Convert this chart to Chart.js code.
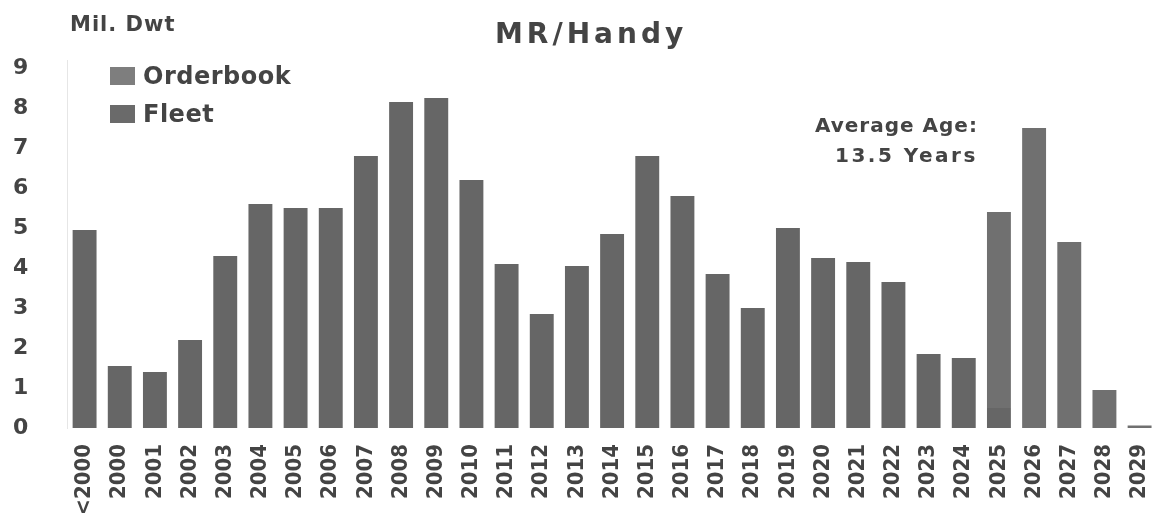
<!DOCTYPE html>
<html>
<head>
<meta charset="utf-8">
<script src="https://cdn.jsdelivr.net/npm/chart.js@4"></script>
<style>
  body { margin: 0; background: #fff; }
  #wrap { position: relative; width: 1174px; height: 513px; font-family: "DejaVu Sans", sans-serif; color: #444; }
  canvas { position: absolute; left: 0; top: 0; }
  .txt { position: absolute; font-weight: bold; white-space: nowrap; line-height: 1.2; }
  .sw { display: inline-block; width: 25px; height: 18px; margin-right: 8px; vertical-align: -1px; }
</style>
</head>
<body>
<div id="wrap">
  <canvas id="myChart" width="1174" height="513"></canvas>
  <div class="txt" style="left:70px;top:12px;font-size:21px;letter-spacing:1px;">Mil. Dwt</div>
  <div class="txt" style="left:495px;top:17px;font-size:28px;letter-spacing:4px;">MR/Handy</div>
  <div class="txt" style="left:110px;top:62px;font-size:24px;letter-spacing:0.5px;"><span class="sw" style="background:#7e7e7e"></span>Orderbook</div>
  <div class="txt" style="left:110px;top:100px;font-size:24px;letter-spacing:0.5px;"><span class="sw" style="background:#6a6a6a"></span>Fleet</div>
  <div class="txt" style="left:815px;top:113px;font-size:20px;letter-spacing:1px;">Average Age:</div>
  <div class="txt" style="left:835px;top:143px;font-size:20px;letter-spacing:2.5px;">13.5 Years</div>
</div>
<script>
const labels = ["<2000", "2000", "2001", "2002", "2003", "2004", "2005", "2006", "2007", "2008",
  "2009", "2010", "2011", "2012", "2013", "2014", "2015", "2016", "2017", "2018",
  "2019", "2020", "2021", "2022", "2023", "2024", "2025", "2026", "2027", "2028", "2029"];

const fleetData = [4.95, 1.55, 1.4, 2.2, 4.3, 5.6, 5.5, 5.5, 6.8, 8.15,
  8.25, 6.2, 4.1, 2.85, 4.05, 4.85, 6.8, 5.8, 3.85, 3.0,
  5.0, 4.25, 4.15, 3.65, 1.85, 1.75, 0.5, 0, 0, 0, 0];

const orderbookData = [0, 0, 0, 0, 0, 0, 0, 0, 0, 0,
  0, 0, 0, 0, 0, 0, 0, 0, 0, 0,
  0, 0, 0, 0, 0, 0, 4.9, 7.5, 4.65, 0.95, 0.06];

const yTicks = [0, 1, 2, 3, 4, 5, 6, 7, 8, 9];

const ctx = document.getElementById("myChart").getContext("2d");
const chart = new Chart(ctx, {
  type: "bar",
  data: {
    labels: labels,
    datasets: [
      {
        label: "Fleet",
        data: fleetData,
        backgroundColor: "#666666",
        barPercentage: 0.68,
        categoryPercentage: 1
      },
      {
        label: "Orderbook",
        data: orderbookData,
        backgroundColor: "#707070",
        barPercentage: 0.68,
        categoryPercentage: 1
      }
    ]
  },
  options: {
    responsive: false,
    animation: false,
    layout: { padding: { left: 13, top: 60, right: 0, bottom: 0 } },
    plugins: {
      legend: { display: false },
      tooltip: { enabled: false }
    },
    scales: {
      x: {
        stacked: true,
        grid: { display: false },
        border: { display: false },
        ticks: {
          color: "#444",
          font: { family: "DejaVu Sans Condensed", size: 22, weight: "bold" },
          minRotation: 90,
          maxRotation: 90,
          padding: 8,
          autoSkip: false
        },
        afterFit: (axis) => { axis.height = 85; }
      },
      y: {
        stacked: true,
        min: 0,
        max: 9.2,
        afterBuildTicks: (axis) => { axis.ticks = yTicks.map(v => ({ value: v })); },
        grid: { display: false },
        border: { display: true, color: "#e6e6e6" },
        ticks: {
          color: "#444",
          font: { family: "DejaVu Sans", size: 22, weight: "bold" },
          crossAlign: "far",
          padding: 8
        },
        afterFit: (axis) => { axis.width = 54; }
      }
    }
  }
});
</script>
</body>
</html>
